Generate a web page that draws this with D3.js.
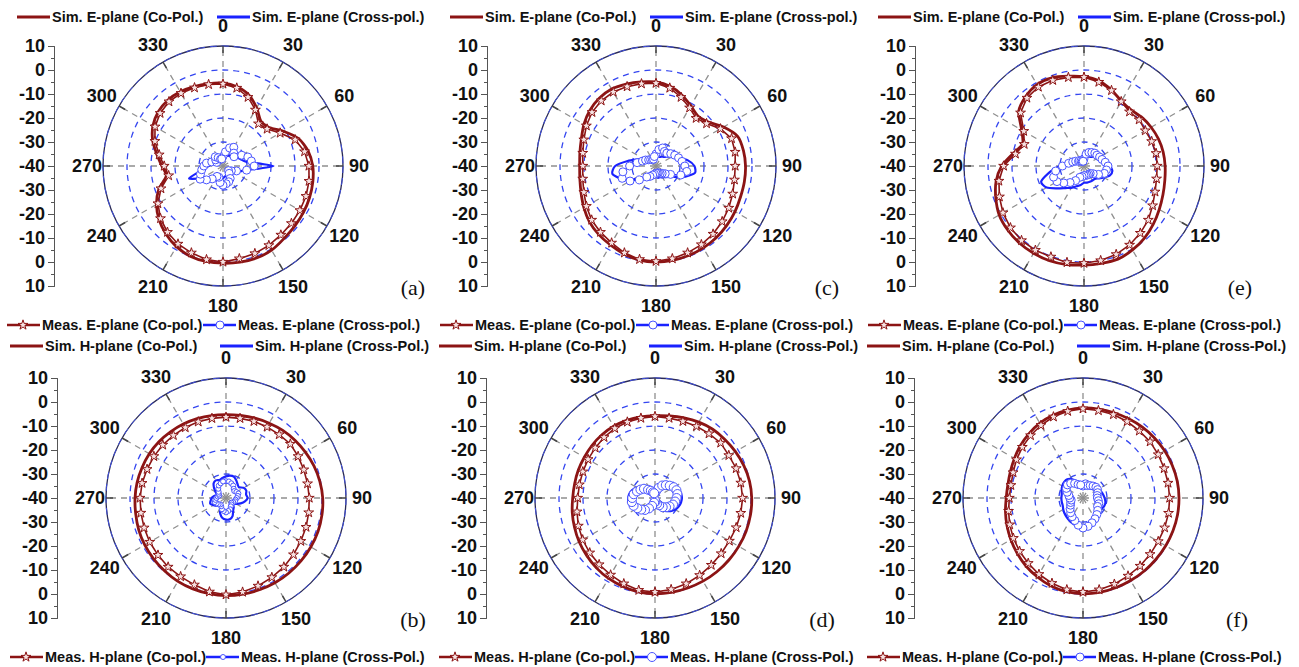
<!DOCTYPE html>
<html>
<head>
<meta charset="utf-8">
<script src="https://cdn.jsdelivr.net/npm/d3@7"></script>
<style>
body { margin: 0; background: #fff; }
text { font-family: "Liberation Sans", Arial, sans-serif; font-weight: bold; fill: #111; }
</style>
</head>
<body>
<div class="chart"></div>
<script>
const width = 1299
const height = 667

// angles of every sample, degrees clockwise from the top
const angles = d3.range(0, 360, 10)
const angleLabels = [0, 30, 60, 90, 120, 150, 180, 210, 240, 270, 300, 330]
const radialTickLabels = ["10", "0", "-10", "-20", "-30", "-40", "-30", "-20", "-10", "0", "10"]
const gridLevels = [-30, -20, -10, 0]

// (a) E-plane
const simCoA = [-5.5, -6.5, -8.5, -12, -15.5, -15, -11, -6.5, -4, -2.6, -2, -1.6, -1.3, -1, -0.5, 0.5, 0.8, 0.7,
  0.5, 0.4, 0, -1.2, -3, -5.2, -8, -11.5, -16, -14.5, -12, -8.8, -6.3, -4.8, -4.2, -4.3, -4.8, -5.2]
const measCoA = [-5.8, -7, -9.5, -13, -17, -16, -12.5, -8, -5.5, -4.2, -3.6, -3.2, -3, -2.8, -2.5, -1.8, -1.2, -0.8,
  0, -0.4, -1.5, -2.5, -4, -6, -8.7, -12.5, -17, -15.5, -13, -9.8, -7.3, -5.8, -5, -5, -5.3, -5.5]
const simXA = [-36, -36, -35.5, -35, -35, -34, -33, -32, -30, -19, -30, -33, -35, -36, -36, -36, -36, -35.5,
  -35, -35, -34.5, -34, -33, -31.5, -29.5, -25, -31.5, -34, -35, -36, -36.5, -37, -37, -37, -36.5, -36]
const measXA = [-36, -34, -32, -31, -33, -34, -31, -29, -28, -27, -30, -34, -36, -37, -36, -34, -33, -32.5,
  -32, -33, -35, -35, -33, -31, -29, -30, -31, -32, -33, -35, -37, -36, -35, -36, -37, -37]

// (c) E-plane
const simCoC = [-5, -6.3, -8.5, -11, -12.8, -11.5, -7.5, -3.8, -3, -2.7, -2.6, -2.5, -2, -1.5, -1, -0.6, -0.3, -0.1,
  0, -0.2, -1, -2, -2.8, -3.8, -5.3, -6.8, -7.8, -8.2, -7.8, -6.9, -5.3, -4, -3.2, -3, -3.7, -4.4]
const measCoC = [-5.5, -7, -9.5, -12, -14, -12.5, -9, -6.5, -6.5, -7, -6.8, -6, -5, -4, -3, -2.2, -1.5, -0.8,
  -0.3, -0.5, -1.5, -3, -4, -5, -6.5, -8, -9, -9.5, -9, -8, -6.5, -5.2, -4.5, -4.4, -4.8, -5.2]
const simXC = [-36, -36, -36, -35.5, -35, -34, -32.5, -30, -26.5, -24, -23.5, -27, -31, -33, -34, -34.5, -35, -35,
  -35.5, -35, -34.5, -34, -33, -31.5, -29, -24.5, -21.5, -23, -28, -32, -34, -35, -35.5, -36, -36.5, -36.5]
const measXC = [-35, -33, -32, -33, -33, -32, -31, -30, -29, -28, -27, -29, -33, -35, -36, -36.5, -37, -37,
  -37, -36.5, -36, -35, -34, -31, -27.5, -25, -26, -29, -32, -34, -35, -36, -36.5, -37, -37, -36]

// (e) E-plane
const simCoE = [-2.8, -4, -6.3, -8.8, -9.5, -8.5, -7.7, -7, -6.5, -6.2, -5.8, -5, -3.8, -2.3, -0.8, 0.4, 1.3, 1.2,
  1.3, 1.7, 2, 2, 1.9, 1.5, 0.8, -0.9, -2.8, -5.7, -10, -12.8, -10, -4.5, -2.2, -0.8, -0.9, -2]
const measCoE = [-3, -4.5, -6.5, -9, -10.5, -10, -10.5, -10, -9.5, -9.5, -9.3, -8.5, -7, -5, -3.5, -2, -0.8, 0,
  0.5, 0.8, 0.3, 0.5, 0.5, 0, -1, -2.5, -4, -6.5, -11, -13.5, -11, -5.5, -3, -2, -2, -2.5]
const simXE = [-36, -35.5, -35.5, -35.5, -35, -34, -33, -32, -30, -29, -28, -28.5, -30.5, -32, -33, -33, -33, -33,
  -33, -32, -31, -29.5, -28, -25.5, -22, -21, -25.5, -30, -32.5, -34, -35, -35.5, -36, -36, -36, -36]
const measXE = [-37, -35, -34, -33.5, -33, -33, -32.5, -32, -31, -30, -30.5, -31, -33, -35, -36, -36, -36, -36,
  -36, -35.5, -35, -33, -31, -29, -27, -26.5, -28, -31, -33.5, -35, -36, -37, -37, -37.5, -38, -38]

// (b) H-plane
const simCoB = [-5.3, -5.1, -4.6, -4, -3.2, -2.5, -1.8, -1, -0.3, 0.3, 0.6, 0.8, 0.8, 0.8, 0.8, 0.8, 0.7, 0.7,
  0.7, 0.5, 0.3, 0.1, -0.3, -0.6, -0.9, -1.3, -1.8, -2.1, -2.4, -2.8, -3.1, -3.5, -4, -4.4, -4.8, -5.1]
const measCoB = [-6.3, -6.3, -6, -5.8, -5.5, -5, -5.3, -5.5, -5.5, -5.3, -5, -4.5, -4, -3.3, -2.5, -1.8, -1, -0.2,
  0.3, -0.3, -1.5, -2.2, -2.5, -3, -3.3, -3.7, -4, -4.2, -4.5, -5, -5.3, -5.6, -5.9, -6.1, -6.2, -6.3]
const simXB = [-31, -30.5, -30.5, -31.5, -32.5, -33, -31.5, -31, -31.5, -31, -32, -33.5, -35, -36, -35, -34, -32, -31,
  -31, -31.5, -33, -35, -36, -35, -34, -33, -33.5, -34, -35, -36, -35, -33.5, -32, -31.5, -32, -31.5]
const measXB = [-33, -33, -33.5, -34, -35, -35.5, -35, -34.5, -35, -35.5, -36, -36, -36.5, -37, -36.5, -36, -35, -34.5,
  -34, -34.5, -35, -36, -36.5, -36, -35.5, -35, -35.5, -36, -36.5, -37, -36.5, -36, -35, -34, -33.5, -33]

// (d) H-plane
const simCoD = [-5.7, -5.3, -4.5, -3.5, -2.6, -2, -1.3, -0.6, 0, 0.3, 0.4, 0.4, 0.3, 0.2, 0.1, 0, -0.1, -0.1,
  -0.1, -0.3, -0.8, -1.3, -2, -2.8, -3.5, -4.3, -5, -5.7, -6, -6, -6, -5.8, -5.6, -5.5, -5.6, -5.7]
const measCoD = [-6, -6.2, -6, -5.5, -5, -4.3, -4.5, -4, -3.7, -3.5, -3.7, -4, -4.2, -4, -3.5, -2.8, -2, -1.3,
  -0.8, -1, -2, -3, -3.8, -4.5, -5.2, -6, -7, -7.8, -8, -8, -7.8, -7.5, -7, -6.5, -6.3, -6.2]
const simXD = [-39, -38, -36, -34.5, -33, -31.5, -30.5, -29.5, -29, -28.8, -29, -29.5, -30.3, -31.5, -33, -34.5, -36, -38,
  -39, -38, -36, -34.3, -32.8, -31.3, -30.2, -29.3, -28.9, -28.8, -29.2, -30, -31.2, -32.7, -34.3, -36, -37.8, -39]
const measXD = [-38, -37, -35.5, -34, -33, -32, -31, -30.5, -30.5, -31, -31.5, -32, -33, -34, -35, -36.5, -37.5, -38.5,
  -39, -38, -36.5, -35, -33.5, -32.5, -31.5, -30.5, -30.2, -30.5, -31, -32, -33, -34, -35.5, -36.5, -37.5, -38]

// (f) H-plane
const simCoF = [-2.5, -2.4, -2.2, -1.9, -1.5, -1.1, -0.7, -0.4, -0.1, 0, 0, -0.1, -0.2, -0.3, -0.3, -0.3, -0.2, -0.1,
  -0.1, -0.4, -1, -2, -3, -4.2, -5.3, -6.3, -7.2, -8, -8.2, -7.8, -7, -6, -5, -4, -3.3, -2.8]
const measCoF = [-2.8, -3, -3, -3.2, -3.5, -3.5, -3.8, -4, -4, -3.9, -3.8, -3.8, -3.8, -3.5, -3, -2.5, -1.8, -1.2,
  -0.8, -1.2, -2.2, -3.3, -4.5, -5.5, -6.5, -7.5, -8.5, -9.3, -9.5, -9, -8, -7, -6, -5, -4, -3.3]
const simXF = [-34, -34, -34, -34, -33.5, -33, -32.5, -32, -31.5, -31, -30.5, -30.5, -31, -31.5, -31, -30, -29, -28.5,
  -28.2, -28.2, -28.5, -29, -29.5, -30, -30.5, -31, -31, -31, -31, -30.5, -30, -29.7, -29.8, -31, -32.5, -33.5]
const measXF = [-35, -34, -34.5, -34, -33.5, -33, -33, -33.5, -34, -34, -33.5, -33, -33, -32, -31, -30, -29, -28,
  -27.5, -28.5, -30, -31, -32, -33, -34, -34.5, -35, -34.5, -34, -33, -32, -31.5, -32, -33, -34, -34.5]

const ePlaneNames = ["Sim. E-plane (Co-Pol.)", "Sim. E-plane (Cross-pol.)", "Meas. E-plane (Co-pol.)", "Meas. E-plane (Cross-pol.)"]
const hPlaneNames = ["Sim. H-plane (Co-Pol.)", "Sim. H-plane (Cross-Pol.)", "Meas. H-plane (Co-pol.)", "Meas. H-plane (Cross-Pol.)"]

const panels = [
  { tag: "(a)", cx: 223, cy: 166, tagX: 413, names: ePlaneNames, simCo: simCoA, measCo: measCoA, simX: simXA, measX: measXA, topLeg: 17, botLeg: 325, simOff: -206, dot: 4 },
  { tag: "(c)", cx: 656, cy: 166, tagX: 827, names: ePlaneNames, simCo: simCoC, measCo: measCoC, simX: simXC, measX: measXC, topLeg: 17, botLeg: 325, simOff: -206, dot: 4 },
  { tag: "(e)", cx: 1084, cy: 166, tagX: 1240, names: ePlaneNames, simCo: simCoE, measCo: measCoE, simX: simXE, measX: measXE, topLeg: 17, botLeg: 325, simOff: -206, dot: 4 },
  { tag: "(b)", cx: 226, cy: 498, tagX: 413, names: hPlaneNames, simCo: simCoB, measCo: measCoB, simX: simXB, measX: measXB, topLeg: 346, botLeg: 657, simOff: -216, dot: 2.5 },
  { tag: "(d)", cx: 655, cy: 498, tagX: 822, names: hPlaneNames, simCo: simCoD, measCo: measCoD, simX: simXD, measX: measXD, topLeg: 346, botLeg: 657, simOff: -216, dot: 4.5 },
  { tag: "(f)", cx: 1083, cy: 498, tagX: 1237, names: hPlaneNames, simCo: simCoF, measCo: measCoF, simX: simXF, measX: measXF, topLeg: 346, botLeg: 657, simOff: -216, dot: 4 }
]

const red = "#8c1414"
const blue = "#1a22ff"
const outerR = 120

const svg = d3.select(".chart")
  .append("svg")
  .attr("width", width)
  .attr("height", height)

const rScale = d3.scaleLinear()
  .domain([-40, 10])
  .range([0, outerR])
  .clamp(true)

const rad = a => a * Math.PI / 180

const radial = d3.lineRadial()
  .angle(d => rad(d.a))
  .radius(d => rScale(d.v))

const toPoints = vals => angles.map((a, i) => ({ a: a, v: vals[i] }))
const xy = d => [rScale(d.v) * Math.sin(rad(d.a)), -rScale(d.v) * Math.cos(rad(d.a))]

panels.forEach(function(p) {
  const g = svg.append("g")
    .attr("transform", "translate(" + p.cx + "," + p.cy + ")")

  // radial spokes
  g.selectAll(".spoke")
    .data(angleLabels)
    .join("line")
    .attr("x1", 0).attr("y1", 0)
    .attr("x2", a => outerR * Math.sin(rad(a)))
    .attr("y2", a => -outerR * Math.cos(rad(a)))
    .attr("stroke", "#8f8f8f")
    .attr("stroke-width", 1.3)
    .attr("stroke-dasharray", "6,5")

  // dashed level circles
  g.selectAll(".level")
    .data(gridLevels)
    .join("circle")
    .attr("r", d => rScale(d))
    .attr("fill", "none")
    .attr("stroke", "#3446f0")
    .attr("stroke-width", 1.3)
    .attr("stroke-dasharray", "6,5")

  g.append("circle")
    .attr("r", outerR)
    .attr("fill", "none")
    .attr("stroke", "#2a2a55")
    .attr("stroke-width", 1.3)

  g.append("circle")
    .attr("r", outerR)
    .attr("fill", "none")
    .attr("stroke", "#4050e0")
    .attr("stroke-width", 1)
    .attr("stroke-dasharray", "7,5")

  // outer ticks
  g.selectAll(".otick")
    .data(angleLabels)
    .join("line")
    .attr("x1", a => (outerR - 7) * Math.sin(rad(a)))
    .attr("y1", a => -(outerR - 7) * Math.cos(rad(a)))
    .attr("x2", a => outerR * Math.sin(rad(a)))
    .attr("y2", a => -outerR * Math.cos(rad(a)))
    .attr("stroke", "#444")
    .attr("stroke-width", 1.5)

  // angle labels
  g.selectAll(".alabel")
    .data(angleLabels)
    .join("text")
    .attr("x", a => (a % 180 === 90 ? 136 : 140) * Math.sin(rad(a)))
    .attr("y", a => -(a % 180 === 90 ? 136 : 140) * Math.cos(rad(a)))
    .attr("text-anchor", "middle")
    .attr("dominant-baseline", "central")
    .style("font-size", "18px")
    .text(a => a)

  // co-pol
  const simCo = toPoints(p.simCo)
  const measCo = toPoints(p.measCo)
  const simX = toPoints(p.simX)
  const measX = toPoints(p.measX)

  g.append("path")
    .attr("d", radial.curve(d3.curveCardinalClosed.tension(0.3))(simCo))
    .attr("fill", "none")
    .attr("stroke", red)
    .attr("stroke-width", 2.8)

  g.append("path")
    .attr("d", radial.curve(d3.curveLinearClosed)(measCo))
    .attr("fill", "none")
    .attr("stroke", red)
    .attr("stroke-width", 1.6)

  g.selectAll(".star")
    .data(measCo)
    .join("path")
    .attr("transform", d => "translate(" + xy(d) + ")")
    .attr("d", d3.symbol(d3.symbolStar, 30))
    .attr("fill", "#f6e2e2")
    .attr("stroke", red)
    .attr("stroke-width", 1)

  // cross-pol
  g.append("path")
    .attr("d", radial.curve(d3.curveCardinalClosed.tension(0.3))(simX))
    .attr("fill", "none")
    .attr("stroke", blue)
    .attr("stroke-width", 2.2)

  g.append("path")
    .attr("d", radial.curve(d3.curveLinearClosed)(measX))
    .attr("fill", "none")
    .attr("stroke", blue)
    .attr("stroke-width", 1.2)

  g.selectAll(".dot")
    .data(measX)
    .join("circle")
    .attr("cx", d => xy(d)[0])
    .attr("cy", d => xy(d)[1])
    .attr("r", p.dot)
    .attr("fill", "#fff")
    .attr("stroke", "#4a55ff")
    .attr("stroke-width", 1)

  // left dB axis
  const yScale = d3.scaleLinear()
    .domain([0, 10])
    .range([p.cy - outerR, p.cy + outerR])

  const minorAxis = d3.axisLeft(yScale)
    .tickValues(d3.range(0.5, 10, 1))
    .tickSize(3)
    .tickFormat("")

  const majorAxis = d3.axisLeft(yScale)
    .tickValues(d3.range(0, 11))
    .tickSize(6)
    .tickPadding(3)
    .tickFormat(i => radialTickLabels[i])

  const ax = svg.append("g")
    .attr("transform", "translate(" + (p.cx - 169) + ",0)")
  ax.append("g").call(minorAxis)
  ax.append("g").call(majorAxis)
  ax.selectAll("path, line").attr("stroke", "#555")
  ax.selectAll("text")
    .style("font-size", "18px")
    .style("font-family", "'Liberation Sans', Arial, sans-serif")
    .attr("fill", "#111")

  // panel tag
  svg.append("text")
    .attr("x", p.tagX)
    .attr("y", p.cy + 121)
    .attr("dominant-baseline", "central")
    .attr("text-anchor", "middle")
    .style("font-family", "'Liberation Serif', 'Times New Roman', serif")
    .style("font-weight", "normal")
    .style("font-size", "22px")
    .text(p.tag)

  // legends
  const legend = [
    { x: p.cx + p.simOff, y: p.topLeg, color: red, w: 2.8, mark: null, name: p.names[0] },
    { x: p.cx - 6, y: p.topLeg, color: blue, w: 2.8, mark: null, name: p.names[1] },
    { x: p.cx - 216, y: p.botLeg, color: red, w: 2.4, mark: "star", name: p.names[2] },
    { x: p.cx - 20, y: p.botLeg, color: blue, w: 2.4, mark: "dot", name: p.names[3] }
  ]

  legend.forEach(function(l) {
    svg.append("line")
      .attr("x1", l.x).attr("x2", l.x + 33)
      .attr("y1", l.y).attr("y2", l.y)
      .attr("stroke", l.color)
      .attr("stroke-width", l.w)
    if (l.mark === "star") {
      svg.append("path")
        .attr("transform", "translate(" + (l.x + 16) + "," + l.y + ")")
        .attr("d", d3.symbol(d3.symbolStar, 30))
        .attr("fill", "#f6e2e2")
        .attr("stroke", red)
    }
    if (l.mark === "dot") {
      svg.append("circle")
        .attr("cx", l.x + 17).attr("cy", l.y)
        .attr("r", p.dot)
        .attr("fill", "#fff")
        .attr("stroke", "#4a55ff")
    }
    svg.append("text")
      .attr("x", l.x + 35)
      .attr("y", l.y)
      .attr("dominant-baseline", "central")
      .style("font-size", "14.5px")
      .text(l.name)
  })
})
</script>
</body>
</html>
